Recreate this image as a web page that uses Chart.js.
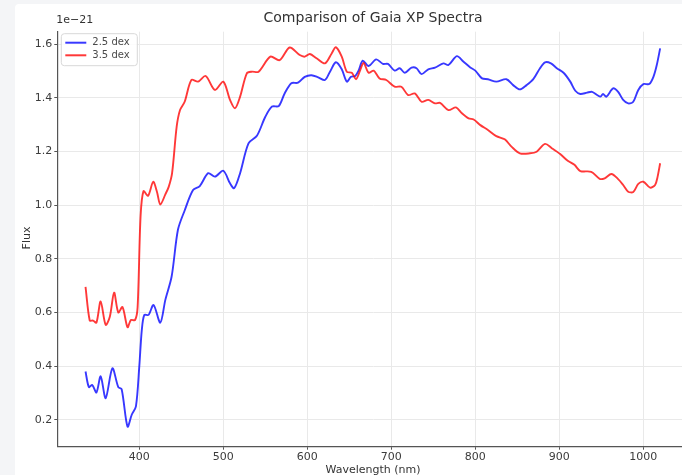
<!DOCTYPE html>
<html>
<head>
<meta charset="utf-8">
<script src="https://cdn.jsdelivr.net/npm/chart.js@4/dist/chart.umd.min.js"></script>
<style>
  html, body { margin: 0; padding: 0; overflow: hidden; background: #f4f5f7; width: 682px; height: 475px; }
  #panel { position: absolute; left: 15px; top: 4px; width: 700px; height: 471px; background: #ffffff; overflow: hidden; border-top-left-radius: 4px; }
  canvas { display: block; }
</style>
</head>
<body>
<div id="panel"><canvas id="spectra" width="700" height="471"></canvas></div>
<script>
// Gaia XP sampled spectra, flux in units of 1e-21
const wave25 = [336, 340, 344, 349, 354, 360, 368, 375, 379, 386, 391, 396, 400, 403, 406, 411, 417, 425, 431, 438.5, 446, 454, 464, 472, 482, 490, 500, 508, 513, 520, 530, 540, 550, 558, 566, 573, 581, 589, 597, 605, 613, 621, 627, 634, 641, 647, 652, 657, 661, 666, 673, 682, 690, 696, 704, 710, 716, 724, 730, 736, 744, 752, 762, 768, 778, 786, 794, 800, 808, 815, 825, 837, 845, 853, 861, 869, 877, 883, 890, 897, 905, 913, 919, 925, 933, 939, 945, 949, 952, 956, 964, 970, 976, 982, 988, 994, 1000, 1007, 1012, 1016, 1020];
const flux25 = [0.380, 0.322, 0.330, 0.302, 0.362, 0.281, 0.392, 0.322, 0.314, 0.175, 0.219, 0.250, 0.399, 0.535, 0.591, 0.591, 0.628, 0.562, 0.647, 0.734, 0.908, 0.980, 1.056, 1.071, 1.119, 1.106, 1.128, 1.081, 1.063, 1.119, 1.230, 1.258, 1.329, 1.367, 1.369, 1.416, 1.454, 1.456, 1.478, 1.484, 1.476, 1.466, 1.497, 1.532, 1.506, 1.460, 1.478, 1.481, 1.501, 1.538, 1.518, 1.543, 1.526, 1.526, 1.501, 1.510, 1.493, 1.512, 1.510, 1.488, 1.506, 1.512, 1.528, 1.522, 1.555, 1.534, 1.513, 1.501, 1.472, 1.469, 1.460, 1.469, 1.447, 1.431, 1.447, 1.469, 1.510, 1.532, 1.528, 1.510, 1.493, 1.460, 1.426, 1.414, 1.419, 1.422, 1.410, 1.404, 1.414, 1.404, 1.435, 1.422, 1.392, 1.379, 1.385, 1.429, 1.451, 1.451, 1.478, 1.522, 1.584];

const wave35 = [336, 341, 345, 349, 354, 360, 365, 370, 375, 380, 386, 390, 395, 398, 401.5, 405, 410.5, 416.5, 421, 425, 431, 435, 439, 444.5, 448.5, 454, 462, 470, 479, 490, 500, 508, 514, 520, 528, 534, 542, 556, 567, 579, 591, 597, 603, 611, 621, 629, 634, 641, 647, 653, 658, 663, 667, 673, 679, 686, 694, 704, 712, 720, 728, 736, 744, 752, 758, 768, 777, 784, 792, 798, 806, 815, 825, 835, 843, 853, 865, 873, 883, 891, 901, 910, 918, 925, 938, 948, 954, 962, 970, 976, 982, 988, 994, 1000, 1008, 1014, 1017, 1020];
const flux35 = [0.695, 0.570, 0.570, 0.562, 0.641, 0.554, 0.585, 0.674, 0.600, 0.620, 0.545, 0.572, 0.572, 0.620, 0.957, 1.052, 1.035, 1.087, 1.050, 1.002, 1.040, 1.068, 1.118, 1.292, 1.354, 1.385, 1.466, 1.460, 1.481, 1.429, 1.460, 1.392, 1.361, 1.404, 1.491, 1.497, 1.497, 1.553, 1.540, 1.587, 1.559, 1.553, 1.563, 1.547, 1.528, 1.565, 1.588, 1.553, 1.497, 1.493, 1.469, 1.503, 1.530, 1.493, 1.501, 1.472, 1.466, 1.441, 1.441, 1.410, 1.416, 1.385, 1.392, 1.379, 1.381, 1.354, 1.364, 1.342, 1.323, 1.319, 1.298, 1.280, 1.257, 1.245, 1.218, 1.193, 1.193, 1.199, 1.228, 1.212, 1.190, 1.165, 1.150, 1.127, 1.124, 1.098, 1.100, 1.116, 1.097, 1.075, 1.050, 1.049, 1.079, 1.087, 1.065, 1.075, 1.106, 1.156];

const seriesLabels = ['2.5 dex', '3.5 dex'];
const xTicks = [400, 500, 600, 700, 800, 900, 1000];
const yTicks = [0.2, 0.4, 0.6, 0.8, 1.0, 1.2, 1.4, 1.6];

const FONT = '"DejaVu Sans", "Liberation Sans", sans-serif';
const TEXT = '#3c3c3c';

const toPoints = (xs, ys) => xs.map((x, i) => ({ x: x, y: ys[i] }));

// titles, offset label and legend box
const annotate = {
  id: 'annotate',
  afterDraw(chart) {
    const { ctx, chartArea: a } = chart;
    const cx = (a.left + a.right) / 2;
    ctx.save();
    ctx.fillStyle = '#333';
    ctx.textAlign = 'center';
    ctx.textBaseline = 'middle';
    ctx.font = '14px ' + FONT;
    ctx.fillText('Comparison of Gaia XP Spectra', cx, 14);

    ctx.font = '11px ' + FONT;
    ctx.textAlign = 'left';
    ctx.textBaseline = 'bottom';
    ctx.fillText('1e\u221221', a.left - 1, 22);

    ctx.textAlign = 'center';
    ctx.textBaseline = 'top';
    ctx.fillText('Wavelength (nm)', cx, 461);

    ctx.save();
    ctx.translate(12, 234);
    ctx.rotate(-Math.PI / 2);
    ctx.textBaseline = 'middle';
    ctx.fillText('Flux', 0, 0);
    ctx.restore();

    // legend
    const bx = a.left + 4, by = a.top + 2, bw = 76, bh = 32;
    ctx.beginPath();
    ctx.roundRect(bx, by, bw, bh, 3);
    ctx.fillStyle = 'rgba(255,255,255,0.85)';
    ctx.fill();
    ctx.strokeStyle = '#d8d8d8';
    ctx.lineWidth = 1;
    ctx.stroke();
    [0, 1].forEach((di, row) => {
      const ds = chart.data.datasets[di];
      const y = by + 9 + row * 12.6;
      ctx.beginPath();
      ctx.moveTo(bx + 4, y);
      ctx.lineTo(bx + 25, y);
      ctx.strokeStyle = ds.borderColor;
      ctx.lineWidth = 2;
      ctx.stroke();
      ctx.fillStyle = '#4a4a4a';
      ctx.font = '10px ' + FONT;
      ctx.textAlign = 'left';
      ctx.textBaseline = 'middle';
      ctx.fillText(ds.label, bx + 31, y);
    });
    ctx.restore();
  }
};

new Chart(document.getElementById('spectra'), {
  type: 'line',
  data: {
    datasets: [
      {
        label: seriesLabels[0],
        data: toPoints(wave25, flux25),
        borderColor: 'rgba(0,0,255,0.78)',
        borderWidth: 1.9,
        pointRadius: 0,
        tension: 0.3,
        fill: false,
        order: 1
      },
      {
        label: seriesLabels[1],
        data: toPoints(wave35, flux35),
        borderColor: 'rgba(255,0,0,0.78)',
        borderWidth: 1.9,
        pointRadius: 0,
        tension: 0.3,
        fill: false,
        order: 0
      }
    ]
  },
  options: {
    responsive: false,
    animation: false,
    devicePixelRatio: 1,
    layout: { padding: { top: 27.7, right: 26.3, left: 0, bottom: 0 } },
    plugins: { legend: { display: false }, tooltip: { enabled: false } },
    scales: {
      x: {
        type: 'linear',
        min: 302.4,
        max: 1054,
        afterBuildTicks: s => { s.ticks = xTicks.map(v => ({ value: v })); },
        afterFit: s => { s.height = 28.3; },
        grid: { color: '#e9e9e9', lineWidth: 1, tickColor: '#555', tickLength: 3, tickBorderDash: [] },
        border: { color: '#555', width: 1.2 },
        ticks: { font: { family: FONT, size: 11 }, color: TEXT, padding: 1, maxRotation: 0, callback: v => String(v) }
      },
      y: {
        type: 'linear',
        min: 0.1,
        max: 1.646,
        afterBuildTicks: s => { s.ticks = yTicks.map(v => ({ value: v })); },
        afterFit: s => { s.width = 42.3; },
        grid: { color: '#e9e9e9', lineWidth: 1, tickColor: '#555', tickLength: 3, tickBorderDash: [] },
        border: { color: '#555', width: 1.2 },
        ticks: { font: { family: FONT, size: 11 }, color: TEXT, padding: 2, callback: v => v.toFixed(1) }
      }
    }
  },
  plugins: [annotate]
});
</script>
</body>
</html>
